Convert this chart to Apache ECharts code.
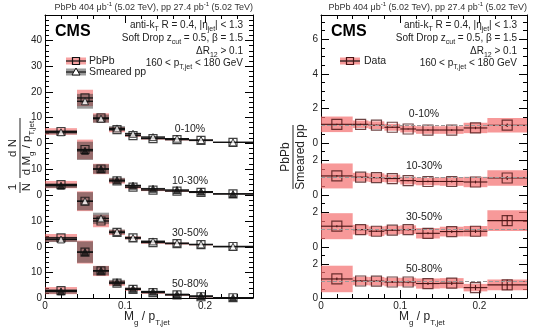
<!DOCTYPE html>
<html>
<head>
<meta charset="utf-8">
<script src="https://cdn.jsdelivr.net/npm/echarts@6/dist/echarts.min.js"></script>
<style>html,body{margin:0;padding:0;background:#fff}#chart{width:535px;height:332px}</style>
</head>
<body>
<div id="chart"></div>
<script>
// bins in Mg / pT,jet
var edges = [0, 0.04, 0.06, 0.08, 0.10, 0.12, 0.15, 0.18, 0.21, 0.26];
var centers = [0.02, 0.05, 0.07, 0.09, 0.11, 0.135, 0.165, 0.195, 0.235];
var centLabels = ['0-10%', '10-30%', '30-50%', '50-80%'];

// 1/N dN/d(Mg/pT,jet), PbPb
var pbpb = [
  [4.5, 17.6, 9.8, 5.2, 2.9, 1.7, 1.3, 1.0, 0.25],
  [4.0, 17.5, 10.0, 5.4, 3.0, 1.9, 1.5, 1.0, 0.4],
  [3.5, 17.6, 10.0, 5.6, 3.5, 1.7, 1.3, 0.9, 0.2],
  [2.9, 18.0, 10.6, 5.8, 3.4, 2.1, 1.2, 0.5, 0.1]
];
var pbpbSys = [
  [1.3, 3.2, 1.8, 1.0, 0.5, 0.35, 0.3, 0.25, 0.12],
  [1.4, 3.8, 2.0, 1.0, 0.55, 0.4, 0.3, 0.25, 0.12],
  [1.5, 3.8, 2.4, 1.0, 0.6, 0.45, 0.35, 0.25, 0.12],
  [1.4, 4.5, 2.0, 1.0, 0.6, 0.45, 0.35, 0.25, 0.12]
];
// smeared pp
var pp = [
  [4.2, 16.3, 9.5, 5.7, 3.6, 2.3, 1.7, 1.15, 0.24],
  [3.6, 17.0, 10.0, 5.7, 3.6, 2.4, 1.9, 1.3, 0.4],
  [2.9, 17.6, 11.0, 5.8, 3.5, 2.15, 1.45, 1.0, 0.13],
  [2.6, 18.0, 10.7, 6.2, 3.6, 2.5, 1.4, 0.8, 0.13]
];
var ppSys = [
  [0.8, 2.9, 1.6, 0.9, 0.45, 0.3, 0.25, 0.2, 0.1],
  [0.9, 3.5, 1.8, 0.9, 0.5, 0.35, 0.25, 0.2, 0.1],
  [1.0, 3.5, 2.2, 0.9, 0.55, 0.4, 0.3, 0.2, 0.1],
  [0.9, 4.2, 1.8, 0.9, 0.55, 0.4, 0.3, 0.2, 0.1]
];
// PbPb / smeared pp
var ratio = [
  [1.08, 1.08, 1.03, 0.91, 0.81, 0.75, 0.75, 0.87, 1.03],
  [1.10, 1.03, 1.00, 0.95, 0.83, 0.78, 0.78, 0.75, 0.98],
  [1.20, 1.00, 0.91, 0.97, 1.00, 0.79, 0.89, 0.91, 1.52],
  [1.12, 1.00, 0.99, 0.94, 0.94, 0.85, 0.87, 0.61, 0.77]
];
var ratioSys = [
  [0.45, 0.22, 0.22, 0.2, 0.2, 0.22, 0.22, 0.3, 0.42],
  [0.72, 0.25, 0.25, 0.22, 0.22, 0.22, 0.25, 0.3, 0.45],
  [0.75, 0.28, 0.28, 0.25, 0.25, 0.3, 0.28, 0.3, 0.6],
  [0.78, 0.25, 0.25, 0.25, 0.25, 0.3, 0.3, 0.22, 0.32]
];
var ratioStat = [
  [0.04, 0.03, 0.03, 0.03, 0.03, 0.04, 0.05, 0.07, 0.1],
  [0.05, 0.03, 0.03, 0.03, 0.04, 0.05, 0.06, 0.08, 0.12],
  [0.06, 0.04, 0.04, 0.04, 0.05, 0.06, 0.08, 0.1, 0.3],
  [0.08, 0.05, 0.05, 0.06, 0.07, 0.08, 0.1, 0.15, 0.3]
];

var FONT = 'Liberation Sans';
var XMAX = 0.26;
var panelTops = [15, 143, 195, 247];
var panelHeights = [128, 52, 52, 51];
var leftMax = [50, 20, 20, 20];
var rightMax = [7.4, 3, 3, 3];
var sides = [{left: 45, width: 208}, {left: 321, width: 206}];
var ppFilled = [false, true, false, true];

var RED_BAND = 'rgba(240,85,85,0.55)';
var GRAY_BAND = 'rgba(55,55,55,0.5)';
var RATIO_BAND = 'rgba(244,110,110,0.7)';
var RATIO_LINE = '#4a1414';

var chart = echarts.init(document.getElementById('chart'));
var grid = [], xAxis = [], yAxis = [], series = [];

function bandRender(color) {
  return function (params, api) {
    var a = api.coord([api.value(0), api.value(3)]);
    var b = api.coord([api.value(1), api.value(2)]);
    return {type: 'rect', shape: {x: a[0], y: a[1], width: b[0] - a[0], height: b[1] - a[1]},
      style: {fill: color}};
  };
}
function statRender(color, w) {
  return function (params, api) {
    var l = api.coord([api.value(0), api.value(3)]);
    var r = api.coord([api.value(1), api.value(3)]);
    var t = api.coord([api.value(2), api.value(3) + api.value(4)]);
    var b = api.coord([api.value(2), api.value(3) - api.value(4)]);
    return {type: 'group', children: [
      {type: 'line', shape: {x1: l[0], y1: l[1], x2: r[0], y2: r[1]}, style: {stroke: color, lineWidth: w}},
      {type: 'line', shape: {x1: t[0], y1: t[1], x2: b[0], y2: b[1]}, style: {stroke: color, lineWidth: w}}
    ]};
  };
}
function bandData(vals, sys) {
  return vals.map(function (v, i) { return [edges[i], edges[i + 1], v - sys[i], v + sys[i]]; });
}
function statData(vals, err) {
  return vals.map(function (v, i) { return [edges[i], edges[i + 1], centers[i], v, err ? err[i] : 0]; });
}
function pointData(vals) {
  return vals.map(function (v, i) { return [centers[i], v]; });
}

var tickStyle = {lineStyle: {color: '#000', width: 1}};
sides.forEach(function (side, s) {
  for (var p = 0; p < 4; p++) {
    var g = s * 4 + p;
    var ymax = s === 0 ? leftMax[p] : rightMax[p];
    var yint = s === 0 ? 10 : 2;
    var bottom = p === 3, top = p === 0;
    grid.push({left: side.left, top: panelTops[p], width: side.width, height: panelHeights[p]});
    xAxis.push({
      type: 'value', gridIndex: g, position: 'bottom', min: 0, max: XMAX, interval: 0.1,
      axisLine: {show: bottom, onZero: false, lineStyle: {color: '#000', width: 1}},
      axisTick: {show: bottom, inside: true, length: 8, lineStyle: {color: '#000'}},
      minorTick: {show: bottom, splitNumber: 5, length: 4, lineStyle: {color: '#000'}},
      splitLine: {show: false},
      axisLabel: {show: bottom, fontFamily: FONT, fontSize: 10, color: '#222', margin: 3, showMaxLabel: false,
        formatter: function (v) { return (Math.abs(v * 10 - Math.round(v * 10)) < 1e-6 && v < 0.25) ? String(Math.round(v * 10) / 10) : ''; }}
    });
    xAxis.push({
      type: 'value', gridIndex: g, position: 'top', min: 0, max: XMAX, interval: 0.1,
      axisLine: {show: top, onZero: false, lineStyle: {color: '#000', width: 1}},
      axisTick: {show: top, inside: true, length: 8, lineStyle: {color: '#000'}},
      minorTick: {show: top, splitNumber: 5, length: 4, lineStyle: {color: '#000'}},
      splitLine: {show: false}, axisLabel: {show: false}
    });
    (function (ymax, yint) {
      yAxis.push({
        type: 'value', gridIndex: g, position: 'left', min: 0, max: ymax, interval: yint,
        axisLine: {show: true, onZero: false, lineStyle: {color: '#000', width: 1}},
        axisTick: {show: true, inside: true, length: 8, lineStyle: {color: '#000'}},
        minorTick: {show: true, splitNumber: s === 0 ? 5 : 4, length: 4, lineStyle: {color: '#000'}},
        splitLine: {show: false},
        axisLabel: {fontFamily: FONT, fontSize: 10, color: '#222', margin: 3, showMaxLabel: false,
          formatter: function (v) { return (v % yint === 0 && v < ymax - 1e-6) ? String(v) : ''; }}
      });
    })(ymax, yint);
    yAxis.push({
      type: 'value', gridIndex: g, position: 'right', min: 0, max: ymax, interval: yint,
      axisLine: {show: true, onZero: false, lineStyle: {color: '#000', width: 1}},
      axisTick: {show: true, inside: true, length: 8, lineStyle: {color: '#000'}},
      minorTick: {show: true, splitNumber: s === 0 ? 5 : 4, length: 4, lineStyle: {color: '#000'}},
      splitLine: {show: false}, axisLabel: {show: false}
    });

    var xi = 2 * g, yi = 2 * g;
    if (s === 0) {
      series.push({type: 'custom', xAxisIndex: xi, yAxisIndex: yi, z: 1, renderItem: bandRender(RED_BAND),
        data: bandData(pbpb[p], pbpbSys[p])});
      series.push({type: 'custom', xAxisIndex: xi, yAxisIndex: yi, z: 2, renderItem: bandRender(GRAY_BAND),
        data: bandData(pp[p], ppSys[p])});
      series.push({type: 'custom', xAxisIndex: xi, yAxisIndex: yi, z: 3, renderItem: statRender('#111', 1.3),
        data: statData(pbpb[p])});
      series.push({type: 'custom', xAxisIndex: xi, yAxisIndex: yi, z: 3, renderItem: statRender('#111', 1.3),
        data: statData(pp[p])});
      series.push({type: 'scatter', xAxisIndex: xi, yAxisIndex: yi, z: 4, symbol: 'rect', symbolSize: 8,
        itemStyle: {color: 'rgba(0,0,0,0)', borderColor: '#111', borderWidth: 1.2}, data: pointData(pbpb[p])});
      series.push({type: 'scatter', xAxisIndex: xi, yAxisIndex: yi, z: 5, symbol: 'triangle', symbolSize: 7,
        itemStyle: {color: ppFilled[p] ? '#111' : '#fff', borderColor: '#111', borderWidth: 1}, data: pointData(pp[p])});
    } else {
      series.push({type: 'custom', xAxisIndex: xi, yAxisIndex: yi, z: 1, renderItem: bandRender(RATIO_BAND),
        data: bandData(ratio[p], ratioSys[p])});
      series.push({type: 'custom', xAxisIndex: xi, yAxisIndex: yi, z: 3, renderItem: statRender(RATIO_LINE, 1.1),
        data: statData(ratio[p], ratioStat[p]),
        markLine: {silent: true, symbol: 'none', label: {show: false},
          lineStyle: {color: '#999', type: 'dashed', width: 1}, data: [{yAxis: 1}]}});
      series.push({type: 'scatter', xAxisIndex: xi, yAxisIndex: yi, z: 4, symbol: 'rect', symbolSize: 10,
        itemStyle: {color: 'rgba(0,0,0,0)', borderColor: RATIO_LINE, borderWidth: 1.2}, data: pointData(ratio[p])});
    }
  }
});

function richSet(size) {
  return {
    sub: {fontSize: Math.round(size * 0.7), fontFamily: FONT, fill: '#222', padding: [Math.round(size * 0.9), 0, 0, 0]},
    sup: {fontSize: Math.round(size * 0.7), fontFamily: FONT, fill: '#222', padding: [0, 0, Math.round(size * 0.9), 0]}
  };
}
function txt(x, y, text, size, align, weight, color) {
  return {type: 'text', x: x, y: y, z: 100, silent: true, style: {
    text: text, fontSize: size, fontFamily: FONT, fontWeight: weight || 'normal', fill: color || '#222',
    align: align || 'left', verticalAlign: 'middle', rich: richSet(size)}};
}

var graphic = [];
var infoLines = [
  'anti-k{sub|T} R = 0.4, |η{sub|jet}| < 1.3',
  'Soft Drop z{sub|cut} = 0.5, β = 1.5',
  'ΔR{sub|12} > 0.1',
  '160 < p{sub|T,jet} < 180 GeV'
];
var infoY = [25, 38, 51, 63];
sides.forEach(function (side, s) {
  var right = side.left + side.width;
  graphic.push(txt(right, 8, 'PbPb 404 μb{sup|-1} (5.02 TeV), pp 27.4 pb{sup|-1} (5.02 TeV)', 9, 'right', null, '#333'));
  graphic.push(txt(side.left + 10, 32, 'CMS', 16, 'left', 'bold', '#000'));
  infoLines.forEach(function (t, i) { graphic.push(txt(right - 10, infoY[i], t, 10, 'right')); });
  graphic.push(txt(side.left + side.width * 0.49, 317, 'M{sub|g} / p{sub|T,jet}', 12, 'center'));
});
// centrality labels
var labYL = [129, 181, 233, 284];
var labYR = [114, 166, 217, 269];
centLabels.forEach(function (c, i) {
  graphic.push(txt(190, labYL[i], c, 10.5, 'center'));
  graphic.push(txt(424, labYR[i], c, 10.5, 'center'));
});
// legends
function legendBox(x, y, fill, marker) {
  var items = [
    {type: 'rect', shape: {x: x, y: y - 3.5, width: 20, height: 7}, style: {fill: fill}, z: 100},
    {type: 'line', shape: {x1: x, y1: y, x2: x + 20, y2: y}, style: {stroke: '#111', lineWidth: 1.2}, z: 101}
  ];
  if (marker === 'square' || marker === 'squareRed') {
    items.push({type: 'rect', shape: {x: x + 6.5, y: y - 3.5, width: 7, height: 7},
      style: {fill: 'none', stroke: marker === 'squareRed' ? RATIO_LINE : '#111', lineWidth: 1.2}, z: 102});
  } else {
    items.push({type: 'polygon', shape: {points: [[x + 10, y - 4], [x + 14, y + 3], [x + 6, y + 3]]},
      style: {fill: '#fff', stroke: '#111', lineWidth: 1}, z: 102});
  }
  return items;
}
graphic = graphic.concat(legendBox(66, 61, RED_BAND, 'square'), legendBox(66, 72, GRAY_BAND, 'triangle'),
  legendBox(340, 61, RATIO_BAND, 'squareRed'));
graphic.push(txt(89, 61, 'PbPb', 10.5));
graphic.push(txt(89, 72, 'Smeared pp', 10.5));
graphic.push(txt(364, 61, 'Data', 10.5));

// y titles (rotated fractions)
graphic.push({type: 'group', x: 20, y: 155, rotation: Math.PI / 2, z: 100, children: [
  txt(-32, -7, '1', 11.5, 'center'),
  {type: 'line', shape: {x1: -38, y1: 0, x2: -27, y2: 0}, style: {stroke: '#222', lineWidth: 1}},
  txt(-32, 7, 'N', 11.5, 'center'),
  txt(7, -7, 'd N', 11.5, 'center'),
  {type: 'line', shape: {x1: -23, y1: 0, x2: 37, y2: 0}, style: {stroke: '#222', lineWidth: 1}},
  txt(7, 7, 'd M{sub|g} / p{sub|T,jet}', 11.5, 'center')
]});
graphic.push({type: 'group', x: 293, y: 157, rotation: Math.PI / 2, z: 100, children: [
  txt(0, -7, 'PbPb', 12, 'center'),
  {type: 'line', shape: {x1: -32, y1: 0, x2: 32, y2: 0}, style: {stroke: '#222', lineWidth: 1}},
  txt(0, 8, 'Smeared pp', 12, 'center')
]});

chart.setOption({
  animation: false,
  textStyle: {fontFamily: FONT},
  grid: grid,
  xAxis: xAxis,
  yAxis: yAxis,
  series: series,
  graphic: graphic
});
</script>
</body>
</html>
